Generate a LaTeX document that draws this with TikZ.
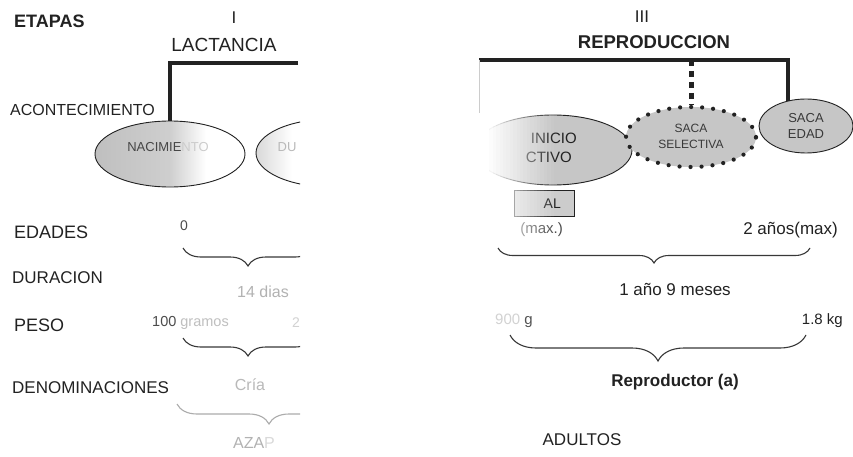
\documentclass[tikz,border=0pt]{standalone}
\usepackage{fontspec}
\setmainfont{Liberation Sans}
\usetikzlibrary{shapes.geometric,decorations.pathreplacing}
\definecolor{ink}{HTML}{222222}
\definecolor{ellgray}{HTML}{C6C6C6}
\newcommand\fsz[1]{\fontsize{#1}{#1}\selectfont}
\pgfdeclarehorizontalshading{nacfade}{100bp}{color(0bp)=(gray!50); color(25bp)=(gray!50); color(50bp)=(gray!38); color(62bp)=(white); color(100bp)=(white)}
\pgfdeclarehorizontalshading{dufade}{100bp}{color(0bp)=(gray!30); color(25bp)=(gray!30); color(37bp)=(white); color(100bp)=(white)}
\begin{document}
\begin{tikzpicture}[x=1pt,y=-1pt,
  lab/.style={anchor=west, inner sep=0pt, text=ink},
  txt/.style={inner sep=0pt, text=ink},
  bar/.style={draw=ink, line width=4pt},
  ev/.style={ellipse, draw=ink, line width=0.9pt, inner sep=0pt},
  brc/.style={draw=ink!90, line width=1.1pt, decorate, decoration={brace, mirror, amplitude=#1}},
  dotln/.style={draw=ink, line width=5pt, dash pattern=on 6pt off 5pt},
]
\fill[white] (0,0) rectangle (853,457);
\useasboundingbox (0,0) rectangle (853,457);

% ---------- row labels ----------
\node[lab, font=\fsz{18}\bfseries] (etapas) at (14,21) {ETAPAS};
\node[lab, font=\fsz{16}] (acont) at (10,110) {ACONTECIMIENTO};
\node[lab, font=\fsz{18}] (edades) at (14,232) {EDADES};
\node[lab, font=\fsz{17}] (durac) at (12,278) {DURACION};
\node[lab, font=\fsz{18}] (peso) at (14,325) {PESO};
\node[lab, font=\fsz{17}] (denom) at (12,388) {DENOMINACIONES};

% ---------- stage headings ----------
\node[txt, font=\fsz{17}] (st1) at (234,18) {I};
\node[txt, font=\fsz{19}] (lact) at (224,45) {LACTANCIA};
\node[txt, font=\fsz{17}] (st3) at (642,17) {III};
\node[txt, font=\fsz{18.5}\bfseries] (repr) at (654,42) {REPRODUCCION};

% ---------- left stage (cut at the washed-out band) ----------
\node[ev, minimum width=150pt, minimum height=66pt, shade, shading=nacfade] (nac) at (170,154) {};
\node[txt, font=\fsz{13}] (nact) at (168,147) {\textcolor{gray!55!black}{NACIMIE}\textcolor{gray!40}{NTO}};
\coordinate (lend) at (298,63);
\begin{scope}
  \clip (0,0) rectangle (300,457);
  \node[ev, minimum width=150pt, minimum height=68pt, shade, shading=dufade] (dest) at (331,153) {};
  \node[txt, font=\fsz{13}, text=gray!55] (destt) at (287,147) {DU};
  \draw[bar] (lend) -| (nac.north);
  \coordinate (eb1) at (183,248); \coordinate (eb2) at (313,248);
  \draw[brc=18] (eb1) -- (eb2);
  \coordinate (pb1) at (183,338); \coordinate (pb2) at (313,338);
  \draw[brc=18] (pb1) -- (pb2);
  \coordinate (db1) at (177,404); \coordinate (db2) at (361,404);
  \draw[brc=20, draw=gray!65] (db1) -- (db2);
  \node[txt, font=\fsz{14}, text=gray!35] (p2) at (296,323) {2};
\end{scope}
\node[txt, font=\fsz{14}, text=gray!60!black] (e0) at (184,226) {0};
\node[txt, font=\fsz{16}, text=gray!60] (d14) at (263,292) {14 dias};
\node[lab, font=\fsz{14.5}] (p100) at (152,323) {\textcolor{gray!60!black}{100} \textcolor{gray!50}{gramos}};
\node[txt, font=\fsz{16}, text=gray!55] (cria) at (250,385) {Cría};
\node[txt, font=\fsz{16}] (gaz) at (254,443) {\textcolor{gray!60}{AZA}\textcolor{gray!30}{P}};

% ---------- right stage ----------
\node[ev, minimum width=158pt, minimum height=70pt, fill=ellgray] (ini) at (553,150) {};
\node[txt, font=\fsz{15}, anchor=east] (init1) at (577,138) {INICIO};
\node[txt, font=\fsz{15}, anchor=east] (init2) at (572,157) {CTIVO};
\node[draw=ink, fill=gray!40, line width=0.9pt, minimum width=60pt, minimum height=26pt, inner sep=0pt] (sem) at (544,203) {};
\node[txt, font=\fsz{14}, anchor=east] (semt) at (561,204) {AL};
\node[txt, font=\fsz{15}, anchor=east, text=gray!60!black] (maxa) at (563,230) {(max.)};
% washed-out band on the right side
\fill[white] (440,98) rectangle (486,240);
\foreach \i in {0,...,19}{
  \pgfmathsetmacro\op{1-\i/20}
  \fill[white, fill opacity=\op] (486+3.4*\i,98) rectangle (486+3.4*\i+3.45,240);
}

\node[ellipse, draw=ink, line width=4.2pt, line cap=round, dash pattern=on 0pt off 11pt, fill=ellgray, minimum width=130pt, minimum height=60pt, inner sep=0pt] (sel) at (691,137) {};
\node[txt, font=\fsz{12}, text=gray!45!black] (selt1) at (691,128) {SACA};
\node[txt, font=\fsz{12}, text=gray!45!black] (selt2) at (691,144) {SELECTIVA};
\node[ev, minimum width=94pt, minimum height=54pt, fill=ellgray] (edad) at (806,126) {};
\node[txt, font=\fsz{13}, text=gray!45!black] (edt1) at (806,118) {SACA};
\node[txt, font=\fsz{13}, text=gray!45!black] (edt2) at (806,134) {EDAD};

\coordinate (rend) at (479,60);
\draw[bar] (rend) -| (edad.126);
\draw[dotln] (sel.north |- rend) -- (sel.north);
\draw[gray!40, line width=0.6pt] (rend) -- ++(0,53);

\node[txt, font=\fsz{17}, anchor=east] (a2) at (838,230) {2 años(max)};
\coordinate (eb3) at (498,248); \coordinate (eb4) at (810,248);
\draw[brc=15] (eb3) -- (eb4);
\node[txt, font=\fsz{17}] (d19) at (675,289) {1 año 9 meses};
\node[lab, font=\fsz{15}] (p900) at (495,321) {\textcolor{gray!35}{900} \textcolor{gray!65!black}{g}};
\node[txt, font=\fsz{15}, anchor=east] (p18) at (843,321) {1.8 kg};
\coordinate (pb3) at (510,335); \coordinate (pb4) at (806,335);
\draw[brc=26] (pb3) -- (pb4);
\node[txt, font=\fsz{17}\bfseries] (repa) at (675,382) {Reproductor (a)};
\node[txt, font=\fsz{17}] (adul) at (582,440) {ADULTOS};
\end{tikzpicture}
\end{document}
